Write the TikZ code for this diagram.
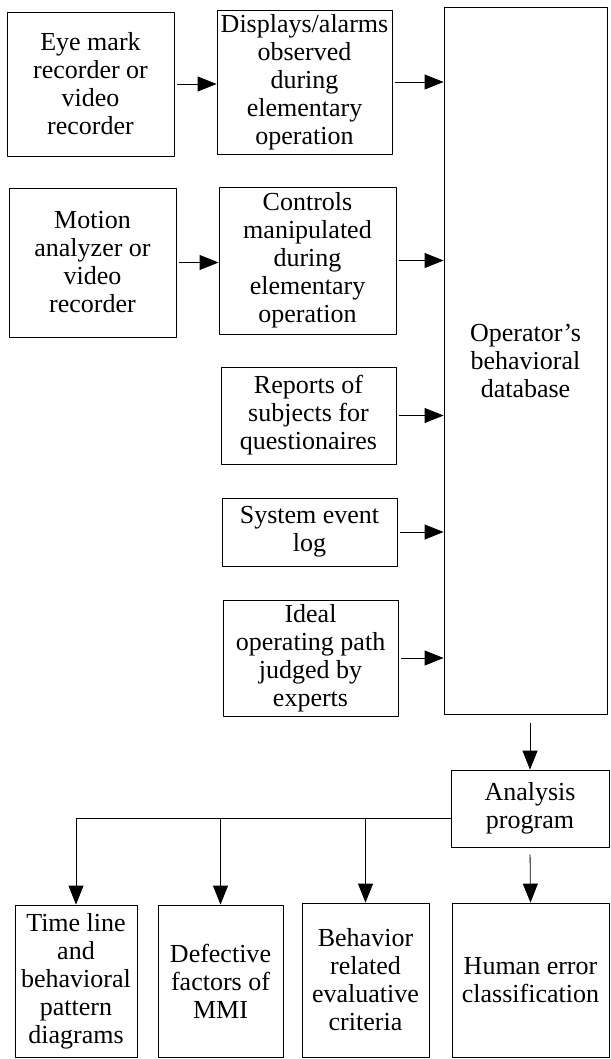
\documentclass[tikz,border=0pt]{standalone}
\usepackage{fontspec}
\setmainfont{Liberation Serif}
\usetikzlibrary{arrows.meta}
\begin{document}
\begin{tikzpicture}[x=1pt,y=-1pt,line join=round,
  font=\fontsize{26}{28}\selectfont,
  >={Triangle[length=19pt,width=15pt]},
  box/.style={draw,line width=.8pt,align=center,inner sep=0pt},
  link/.style={->,line width=.8pt,shorten <=3pt}]
\useasboundingbox (0,0) rectangle (610,1059);
% data sources
\node[box,minimum width=167,minimum height=144] (eye) at (90.5,84) {Eye mark\\recorder or\\video\\recorder};
\node[box,minimum width=167,minimum height=149] (motion) at (92.5,262.5) {Motion\\analyzer or\\video\\recorder};
\node[box,minimum width=175,minimum height=144] (disp) at (304.5,82) {Displays/alarms\\observed\\during\\elementary\\operation};
\node[box,minimum width=177,minimum height=147] (ctrl) at (307.5,260.5) {Controls\\manipulated\\during\\elementary\\operation};
\node[box,minimum width=175,minimum height=97] (rep) at (308.5,415.5) {Reports of\\subjects for\\questionaires};
\node[box,minimum width=175,minimum height=68] (log) at (309.5,532) {System event\\log};
\node[box,minimum width=175,minimum height=116] (ideal) at (310.5,658) {Ideal\\operating path\\judged by\\experts};
\node[box,minimum width=163,minimum height=707] (db) at (525.5,360.5) {Operator's\\behavioral\\database};
\node[box,minimum width=158,minimum height=77] (ana) at (530,808.5) {Analysis\\program};
% results
\node[box,minimum width=122,minimum height=152] (tl) at (76,981) {Time line\\and\\behavioral\\pattern\\diagrams};
\node[box,minimum width=125,minimum height=152] (df) at (220.5,981) {Defective\\factors of\\MMI};
\node[box,minimum width=127,minimum height=154] (br) at (365.5,980) {Behavior\\related\\evaluative\\criteria};
\node[box,minimum width=157,minimum height=154] (he) at (530.5,980) {Human error\\classification};
% connectors
\draw[link] (eye.east) -- (eye.east -| disp.west);
\draw[link] (motion.east) -- (motion.east -| ctrl.west);
\foreach \src in {disp,ctrl,rep,log,ideal}
  \draw[link] (\src.east) -- (\src.east -| db.west);
\draw[link,shorten <=9pt] (db.south -| ana.north) -- (ana.north);
\draw[link,shorten <=7pt] (ana.south) -- (he.north);
\coordinate (fork) at (451,818);
\foreach \dst in {tl,df,br}
  \draw[->,line width=.8pt] (fork) -| (\dst.north);
\end{tikzpicture}
\end{document}
